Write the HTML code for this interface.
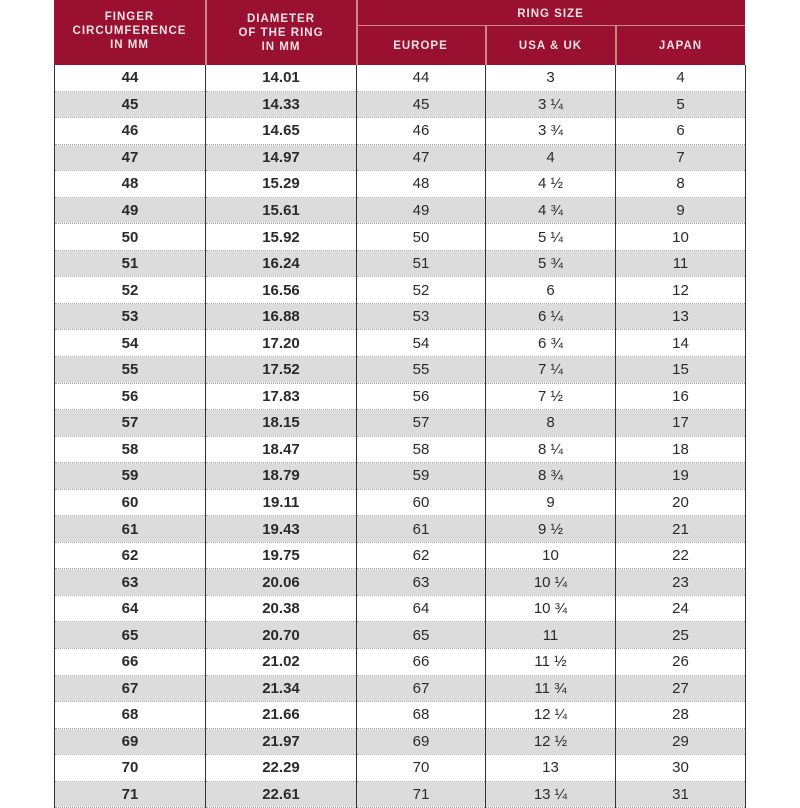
<!DOCTYPE html>
<html><head><style>
html,body{margin:0;width:800px;height:800px;background:#fff;overflow:hidden;font-family:"Liberation Sans",sans-serif;}
.hd{position:absolute;background:#9a1030;color:#f3e3e6;font-weight:bold;font-size:11.5px;letter-spacing:1px;text-align:center;line-height:14px;}
table{position:absolute;left:54px;top:65px;border-collapse:collapse;table-layout:fixed;}
td{height:25.55px;line-height:25px;padding:0;text-align:center;font-size:15px;color:#2a2a2a;border-left:1.5px solid #333;border-right:1.5px solid #333;border-bottom:1px dotted #aaa;box-sizing:content-box;overflow:hidden;}
tr:nth-child(even) td{background:#dcdcdc;}
td.b{font-weight:bold;}
</style></head><body>
<div class="hd" style="left:54px;top:0;width:691px;height:65px;"></div>
<div class="hd" style="left:54px;top:10px;width:151px;">FINGER<br>CIRCUMFERENCE<br>IN MM</div>
<div class="hd" style="left:206px;top:12px;width:150px;">DIAMETER<br>OF THE RING<br>IN MM</div>
<div style="position:absolute;left:205px;top:0;width:1.5px;height:65px;background:#c88"></div>
<div style="position:absolute;left:356px;top:0;width:1.5px;height:65px;background:#c88"></div>
<div style="position:absolute;left:356px;top:25px;width:389px;height:1px;background:#c88"></div>
<div style="position:absolute;left:485px;top:25px;width:1.5px;height:40px;background:#c88"></div>
<div style="position:absolute;left:615px;top:25px;width:1.5px;height:40px;background:#c88"></div>
<div class="hd" style="left:356px;top:7px;width:389px;background:none">RING SIZE</div>
<div class="hd" style="left:356px;top:39px;width:129px;background:none">EUROPE</div>
<div class="hd" style="left:486px;top:39px;width:129px;background:none">USA &amp; UK</div>
<div class="hd" style="left:616px;top:39px;width:129px;background:none">JAPAN</div>
<table>
<colgroup><col style="width:151px"><col style="width:151px"><col style="width:129px"><col style="width:130px"><col style="width:130px"></colgroup>
<tr><td class="b">44</td><td class="b">14.01</td><td>44</td><td>3</td><td>4</td></tr>
<tr><td class="b">45</td><td class="b">14.33</td><td>45</td><td>3 ¼</td><td>5</td></tr>
<tr><td class="b">46</td><td class="b">14.65</td><td>46</td><td>3 ¾</td><td>6</td></tr>
<tr><td class="b">47</td><td class="b">14.97</td><td>47</td><td>4</td><td>7</td></tr>
<tr><td class="b">48</td><td class="b">15.29</td><td>48</td><td>4 ½</td><td>8</td></tr>
<tr><td class="b">49</td><td class="b">15.61</td><td>49</td><td>4 ¾</td><td>9</td></tr>
<tr><td class="b">50</td><td class="b">15.92</td><td>50</td><td>5 ¼</td><td>10</td></tr>
<tr><td class="b">51</td><td class="b">16.24</td><td>51</td><td>5 ¾</td><td>11</td></tr>
<tr><td class="b">52</td><td class="b">16.56</td><td>52</td><td>6</td><td>12</td></tr>
<tr><td class="b">53</td><td class="b">16.88</td><td>53</td><td>6 ¼</td><td>13</td></tr>
<tr><td class="b">54</td><td class="b">17.20</td><td>54</td><td>6 ¾</td><td>14</td></tr>
<tr><td class="b">55</td><td class="b">17.52</td><td>55</td><td>7 ¼</td><td>15</td></tr>
<tr><td class="b">56</td><td class="b">17.83</td><td>56</td><td>7 ½</td><td>16</td></tr>
<tr><td class="b">57</td><td class="b">18.15</td><td>57</td><td>8</td><td>17</td></tr>
<tr><td class="b">58</td><td class="b">18.47</td><td>58</td><td>8 ¼</td><td>18</td></tr>
<tr><td class="b">59</td><td class="b">18.79</td><td>59</td><td>8 ¾</td><td>19</td></tr>
<tr><td class="b">60</td><td class="b">19.11</td><td>60</td><td>9</td><td>20</td></tr>
<tr><td class="b">61</td><td class="b">19.43</td><td>61</td><td>9 ½</td><td>21</td></tr>
<tr><td class="b">62</td><td class="b">19.75</td><td>62</td><td>10</td><td>22</td></tr>
<tr><td class="b">63</td><td class="b">20.06</td><td>63</td><td>10 ¼</td><td>23</td></tr>
<tr><td class="b">64</td><td class="b">20.38</td><td>64</td><td>10 ¾</td><td>24</td></tr>
<tr><td class="b">65</td><td class="b">20.70</td><td>65</td><td>11</td><td>25</td></tr>
<tr><td class="b">66</td><td class="b">21.02</td><td>66</td><td>11 ½</td><td>26</td></tr>
<tr><td class="b">67</td><td class="b">21.34</td><td>67</td><td>11 ¾</td><td>27</td></tr>
<tr><td class="b">68</td><td class="b">21.66</td><td>68</td><td>12 ¼</td><td>28</td></tr>
<tr><td class="b">69</td><td class="b">21.97</td><td>69</td><td>12 ½</td><td>29</td></tr>
<tr><td class="b">70</td><td class="b">22.29</td><td>70</td><td>13</td><td>30</td></tr>
<tr><td class="b">71</td><td class="b">22.61</td><td>71</td><td>13 ¼</td><td>31</td></tr>
</table>
</body></html>
